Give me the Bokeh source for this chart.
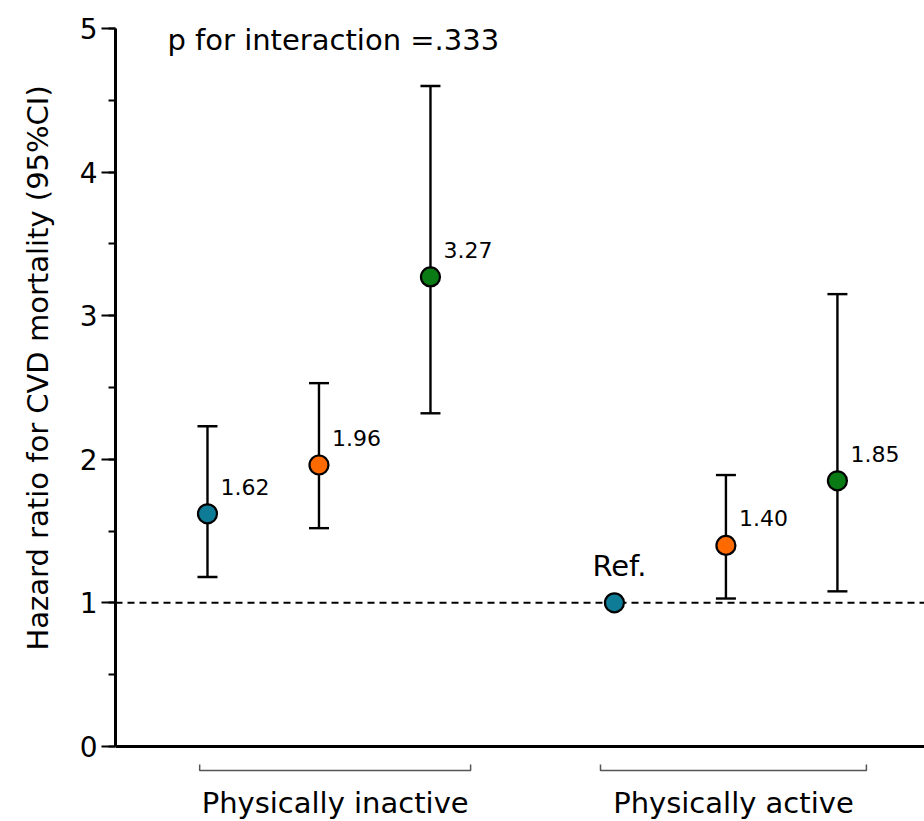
from bokeh.plotting import figure
from bokeh.models import (Range1d, Span, Whisker, TeeHead, ColumnDataSource,
                          SingleIntervalTicker, Label, Title)
from bokeh.core.properties import value
from bokeh.embed import file_html
from bokeh.resources import INLINE

# ---------------- data ----------------
groups = ["Physically inactive", "Physically active"]
levels = ["Low", "Middle", "High"]
hr = [[1.62, 1.96, 3.27], [1.00, 1.40, 1.85]]
lower = [[1.18, 1.52, 2.32], [None, 1.03, 1.08]]
upper = [[2.23, 2.53, 4.60], [None, 1.89, 3.15]]
point_labels = [["1.62", "1.96", "3.27"], ["Ref.", "1.40", "1.85"]]
colors = ["#0E7C97", "#FF6A00", "#0A7A14"]
y_ticks_interval = 1
annotation_text = "p for interaction =.333"
y_title = "Hazard ratio for CVD mortality (95%CI)"

# ---------------- layout ----------------
FONT = "DejaVu Sans"
GROUP_STEP = 3.65
X0, X1 = 0.175, 7.431
BRACKET_PAD = [(0.07, 0.36), (0.125, 0.26)]
xs, ys, cs = [], [], []
ci_x, ci_lo, ci_hi = [], [], []
val_x, val_y, val_t = [], [], []
ref_x, ref_y, ref_t = [], [], []
for g in range(len(groups)):
    for k in range(len(levels)):
        x = 1 + g * GROUP_STEP + k
        xs.append(x); ys.append(hr[g][k]); cs.append(colors[k])
        if lower[g][k] is not None:
            ci_x.append(x); ci_lo.append(lower[g][k]); ci_hi.append(upper[g][k])
            val_x.append(x); val_y.append(hr[g][k]); val_t.append(point_labels[g][k])
        else:
            ref_x.append(x); ref_y.append(hr[g][k]); ref_t.append(point_labels[g][k])

p = figure(width=924, height=821,
           x_range=Range1d(X0, X1), y_range=Range1d(-0.523, 5.195),
           output_backend="svg", toolbar_location=None, x_axis_location=None,
           min_border_left=115, min_border_right=0, min_border_top=0,
           min_border_bottom=0)
p.outline_line_color = None
p.grid.visible = False
p.background_fill_color = "white"

# y axis
ax = p.yaxis[0]
ax.ticker = SingleIntervalTicker(interval=y_ticks_interval, num_minor_ticks=2)
ax.bounds = (0, 5)
ax.axis_line_width = 3
ax.axis_line_color = "black"
ax.major_tick_out = 14
ax.major_tick_in = 0
ax.minor_tick_out = 7
ax.minor_tick_in = 0
ax.major_tick_line_width = 2
ax.minor_tick_line_width = 2
ax.major_tick_line_color = "black"
ax.minor_tick_line_color = "black"
ax.major_label_text_font = FONT
ax.major_label_text_font_size = "28px"
ax.major_label_text_color = "black"
ax.major_label_standoff = 4

# y-axis title as a left-side title (lets us place it like the reference)
p.add_layout(Title(text=y_title, align="left", offset=171, standoff=40,
                   vertical_align="top", text_font=FONT, text_font_size="29px",
                   text_font_style="normal", text_color="black"), "left")

# baseline (x axis) and reference line
p.add_layout(Span(location=0, dimension="width", line_color="black",
                  line_width=3, level="underlay"))
p.add_layout(Span(location=1, dimension="width", line_color="black",
                  line_width=2, line_dash="7 5", level="underlay"))

# error bars
ci_src = ColumnDataSource(dict(x=ci_x, lo=ci_lo, hi=ci_hi))
p.add_layout(Whisker(base="x", lower="lo", upper="hi", source=ci_src,
                     line_color="black", line_width=2.4, level="underlay",
                     upper_head=TeeHead(size=20, line_width=2.4, line_color="black"),
                     lower_head=TeeHead(size=20, line_width=2.4, line_color="black")))

# points
p.scatter(x=xs, y=ys, size=19, fill_color=cs, line_color="black", line_width=2.2)

# value labels
p.text(x=val_x, y=val_y, text=val_t, x_offset=13, y_offset=-27,
       text_font=value(FONT), text_font_size="22px", text_color="black",
       text_baseline="alphabetic", text_align="left")
p.text(x=ref_x, y=ref_y, text=ref_t, x_offset=5, y_offset=-37,
       text_font=value(FONT), text_font_size="29px", text_color="black",
       text_baseline="alphabetic", text_align="center")

# group brackets and labels
bx, by, gx = [], [], []
for g in range(len(groups)):
    first = 1 + g * GROUP_STEP
    last = first + len(levels) - 1
    left, right = first - BRACKET_PAD[g][0], last + BRACKET_PAD[g][1]
    bx.append([left, left, right, right])
    by.append([-0.126, -0.167, -0.167, -0.126])
    gx.append((left + right) / 2)
p.multi_line(xs=bx, ys=by, line_color="#555555", line_width=1.5)
p.text(x=gx, y=[-0.395] * len(groups), text=groups, text_font=value(FONT),
       text_font_size="29px", text_color="black", text_baseline="alphabetic",
       text_align="center")

p.add_layout(Label(x=0.641, y=4.92, text=annotation_text, text_font=FONT,
                   text_font_size="29px", text_color="black",
                   text_baseline="alphabetic", text_align="left"))

open("out.html", "w").write(file_html(p, INLINE))
